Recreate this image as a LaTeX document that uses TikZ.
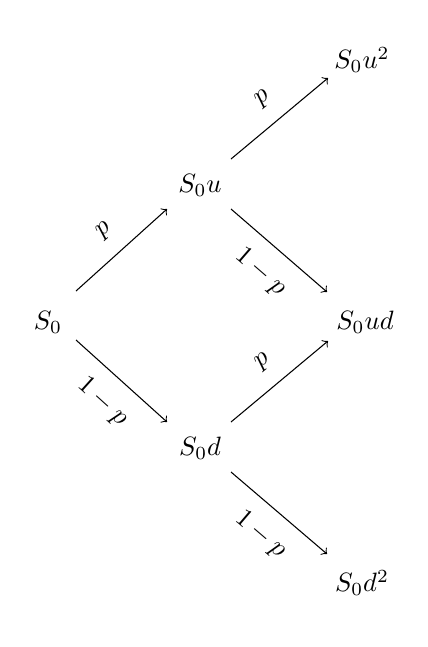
\documentclass[tikz,border=0pt]{standalone}
\tikzset{
  px/.style={x={(0.377pt,0)},y={(0,-0.377pt)}},
  st/.style={inner sep=0pt},
  br/.style={->, line width=0.4pt},
  lab/.style={midway, sloped}
}
\begin{document}
\begin{tikzpicture}[px]
\useasboundingbox (0,0) rectangle (428,647);
\node[st] (s0) at (48,322) {$S_0$};
\node[st] (su) at (200,185) {$S_0u$};
\node[st] (sd) at (200,448) {$S_0d$};
\node[st] (suu) at (362,60) {$S_0u^2$};
\node[st] (sud) at (365,322) {$S_0ud$};
\node[st] (sdd) at (362,583) {$S_0d^2$};
\draw[br] ([shift={(28,-31)}]s0.center) -- node[lab, above=3pt] {$p$} ([shift={(-33,24)}]su.center);
\draw[br] ([shift={(28,18)}]s0.center) -- node[lab, below=3pt] {$1-p$} ([shift={(-33,-26)}]sd.center);
\draw[br] ([shift={(31,-26)}]su.center) -- node[lab, above=3pt] {$p$} ([shift={(-34,18)}]suu.center);
\draw[br] ([shift={(31,24)}]su.center) -- node[lab, below=3pt] {$1-p$} ([shift={(-38,-30)}]sud.center);
\draw[br] ([shift={(31,-26)}]sd.center) -- node[lab, above=3pt] {$p$} ([shift={(-37,19)}]sud.center);
\draw[br] ([shift={(31,24)}]sd.center) -- node[lab, below=3pt] {$1-p$} ([shift={(-35,-29)}]sdd.center);
\end{tikzpicture}
\end{document}
